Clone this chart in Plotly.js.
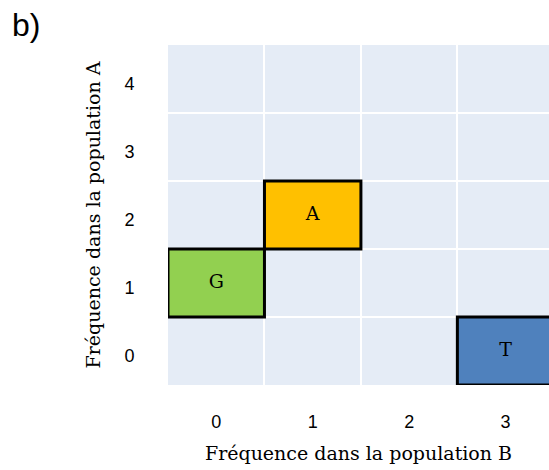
<!DOCTYPE html>
<html><head><meta charset="utf-8">
<script src="https://cdn.plot.ly/plotly-3.0.1.min.js"></script>
<style>html,body{margin:0;padding:0;background:#fff}#chart{width:549px;height:470px}</style>
</head><body><div id="chart"></div>
<script>
// Data
const nucleotides = ["G", "A", "T"];
const freqB = [0, 1, 3];       // x: Fréquence dans la population B
const freqA = [1, 2, 0];       // y: Fréquence dans la population A
const colors = ["#92D050", "#FFC000", "#4F81BD"];
const xTicks = [0, 1, 2, 3, 4];
const yTicks = [0, 1, 2, 3, 4];

const serif = "DejaVu Serif, serif";
const sans = "Liberation Sans, Arial, sans-serif";

const traces = nucleotides.map((n, i) => {
  const cx = freqB[i], cy = freqA[i];
  return {
    type: "scatter", mode: "lines",
    x: [cx - 0.5, cx + 0.5, cx + 0.5, cx - 0.5, cx - 0.5],
    y: [cy - 0.5, cy - 0.5, cy + 0.5, cy + 0.5, cy - 0.5],
    fill: "toself", fillcolor: colors[i],
    line: {color: "black", width: 3},
    hoverinfo: "skip", showlegend: false
  };
});
traces.push({
  type: "scatter", mode: "text",
  x: freqB, y: freqA, text: nucleotides,
  textfont: {family: serif, size: 19, color: "black"},
  hoverinfo: "skip", showlegend: false
});

const layout = {
  width: 549, height: 470,
  margin: {l: 168, r: 0, t: 45, b: 85},
  paper_bgcolor: "white", plot_bgcolor: "#E5ECF6",
  xaxis: {
    range: [-0.5, 3.45], tickvals: xTicks, ticktext: xTicks.map(String),
    showgrid: false, zeroline: false, showline: false,
    ticks: "outside", ticklen: 20, tickcolor: "rgba(0,0,0,0)",
    tickfont: {family: sans, size: 18, color: "black"},
    minor: {tickvals: [0.5, 1.5, 2.5, 3.5], showgrid: true, gridcolor: "white", gridwidth: 2, ticks: ""},
    title: {text: "Fréquence dans la population B", font: {family: serif, size: 19, color: "black"}, standoff: 16}
  },
  yaxis: {
    range: [-0.5, 4.5], tickvals: yTicks, ticktext: yTicks.map(String),
    showgrid: false, zeroline: false, showline: false,
    ticks: "outside", ticklen: 29, tickcolor: "rgba(0,0,0,0)",
    ticklabelshift: 5,
    tickfont: {family: sans, size: 18, color: "black"},
    minor: {tickvals: [0.5, 1.5, 2.5, 3.5], showgrid: true, gridcolor: "white", gridwidth: 2, ticks: ""},
    title: {text: "Fréquence dans la population A", font: {family: serif, size: 19, color: "black"}, standoff: 18}
  },
  annotations: [{
    text: "b)", xref: "paper", yref: "paper", x: 0, y: 1,
    xanchor: "left", yanchor: "top", showarrow: false,
    font: {family: sans, size: 32, color: "black"}
  }]
};
// place the "b)" label near the page's top-left corner
layout.annotations[0].x = (10 - 168) / (549 - 168);
layout.annotations[0].y = 1 + (45 - 5) / (470 - 45 - 85);

Plotly.newPlot("chart", traces, layout, {displayModeBar: false, staticPlot: true});
</script>
</body></html>
